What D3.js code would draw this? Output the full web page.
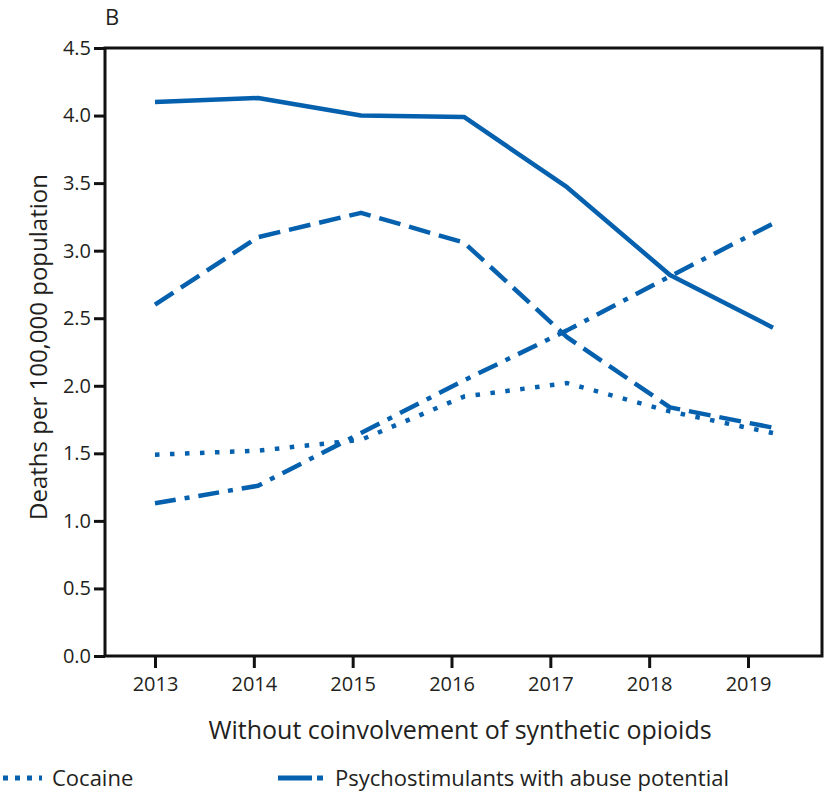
<!DOCTYPE html>
<html>
<head>
<meta charset="utf-8">
<script src="https://cdn.jsdelivr.net/npm/d3@7"></script>
<style>
  body { margin: 0; background: #fff; }
  text { font-family: "Open Sans", "Noto Sans", sans-serif; fill: #231f20; }
</style>
</head>
<body>
<div class="chart-container"></div>
<script>
// years + rates (deaths per 100,000)
const years = [2013, 2014, 2015, 2016, 2017, 2018, 2019];
const solidSeries = [4.10, 4.13, 4.00, 3.99, 3.47, 2.82, 2.43];
const dashedSeries = [2.60, 3.10, 3.28, 3.06, 2.36, 1.84, 1.69];
const psychostimulants = [1.13, 1.26, 1.65, 2.04, 2.41, 2.81, 3.20];
const cocaine = [1.49, 1.52, 1.60, 1.92, 2.02, 1.81, 1.65];
const yTicks = [0, 0.5, 1, 1.5, 2, 2.5, 3, 3.5, 4, 4.5];

const W = 828, H = 794;
const plot = { left: 105, right: 822, top: 48, bottom: 656 };
const blue = '#0560ae';

const svg = d3.select('.chart-container')
    .append('svg')
    .attr('width', W)
    .attr('height', H);

const y = d3.scaleLinear().domain([0, 4.5]).range([plot.bottom, plot.top]);
// the printed ticks and the plotted points don't sit on quite the same spacing
const xTick = d3.scalePoint().domain(years).range([155, 748]);
const xLine = d3.scalePoint().domain(years).range([155, 773]);

// frame
svg.append('rect')
    .attr('x', plot.left).attr('y', plot.top)
    .attr('width', plot.right - plot.left).attr('height', plot.bottom - plot.top)
    .attr('fill', 'none')
    .attr('stroke', '#111')
    .attr('stroke-width', 3);

// y axis
const yAxis = svg.append('g')
    .attr('transform', `translate(${plot.left},0)`)
    .call(d3.axisLeft(y).tickValues(yTicks).tickFormat(d3.format('.1f')).tickSize(11).tickPadding(3));
yAxis.select('.domain').remove();
yAxis.selectAll('line').attr('stroke', '#111').attr('stroke-width', 3);
yAxis.selectAll('text').attr('font-size', '20px').style('fill', '#231f20');

// x axis
const xAxis = svg.append('g')
    .attr('transform', `translate(0,${plot.bottom})`)
    .call(d3.axisBottom(xTick).tickSize(12).tickPadding(9));
xAxis.select('.domain').remove();
xAxis.selectAll('line').attr('stroke', '#111').attr('stroke-width', 3);
xAxis.selectAll('text').attr('font-size', '20px').style('fill', '#231f20');

// titles
svg.append('text')
    .attr('x', 105).attr('y', 25)
    .attr('font-size', '22px')
    .text('B');

svg.append('text')
    .attr('transform', 'translate(47,347) rotate(-90)')
    .attr('text-anchor', 'middle')
    .attr('font-size', '24px')
    .text('Deaths per 100,000 population');

svg.append('text')
    .attr('x', 460).attr('y', 739)
    .attr('text-anchor', 'middle')
    .attr('font-size', '25px')
    .text('Without coinvolvement of synthetic opioids');

// lines
const series = [
    { values: solidSeries, dash: null },
    { values: dashedSeries, dash: '22,9' },
    { values: psychostimulants, dash: '21,9,5,9' },
    { values: cocaine, dash: '4.5,10.5' }
];

const line = d3.line()
    .x((d, i) => xLine(years[i]))
    .y(d => y(d));

svg.append('g')
    .selectAll('path')
    .data(series)
    .enter().append('path')
    .attr('d', d => line(d.values))
    .attr('fill', 'none')
    .attr('stroke', blue)
    .attr('stroke-width', 4.5)
    .attr('stroke-linejoin', 'round')
    .attr('stroke-dasharray', d => d.dash);

// legend (only the visible part)
const legend = [
    { label: 'Cocaine', dash: '5,7', x0: 3, x1: 42, tx: 52 },
    { label: 'Psychostimulants with abuse potential', dash: '34,5,6,9', x0: 278, x1: 324, tx: 335 }
];

const lg = svg.append('g').selectAll('g')
    .data(legend)
    .enter().append('g');

lg.append('line')
    .attr('x1', d => d.x0).attr('x2', d => d.x1)
    .attr('y1', 778).attr('y2', 778)
    .attr('stroke', blue)
    .attr('stroke-width', 5)
    .attr('stroke-dasharray', d => d.dash);

lg.append('text')
    .attr('x', d => d.tx).attr('y', 786)
    .attr('font-size', '22px')
    .text(d => d.label);
</script>
</body>
</html>
